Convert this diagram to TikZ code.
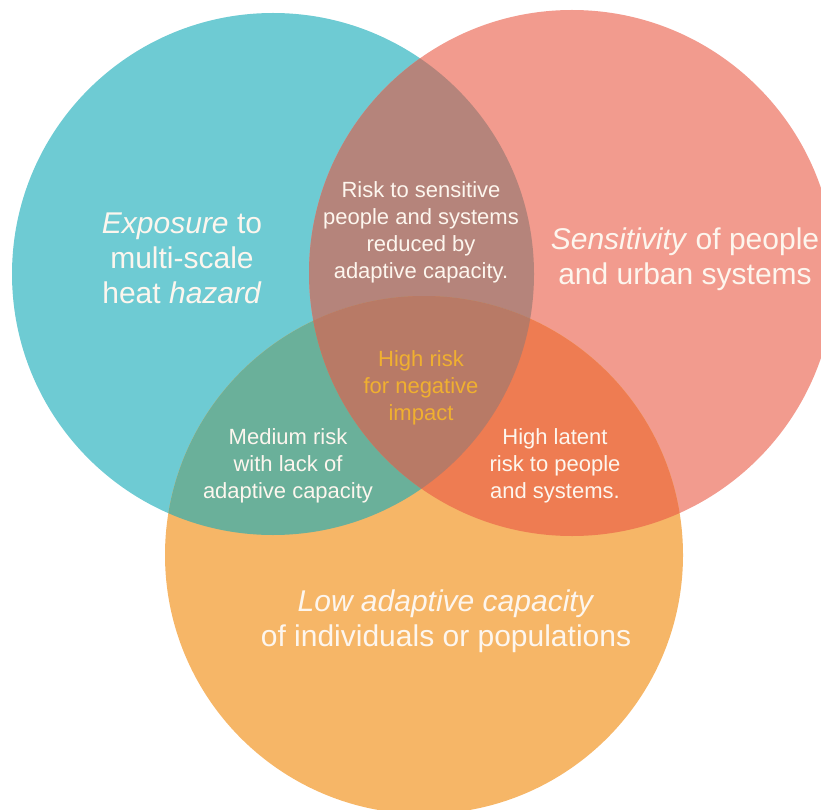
\documentclass[tikz,border=0pt]{standalone}
\usepackage{fontspec}
\setmainfont{Liberation Sans}
\definecolor{cteal}{HTML}{6ECBD3}
\definecolor{csalmon}{HTML}{F29B8E}
\definecolor{corange}{HTML}{F6B667}
\definecolor{cts}{HTML}{B5847B}
\definecolor{cto}{HTML}{6AB09A}
\definecolor{cso}{HTML}{EE7C52}
\definecolor{call}{HTML}{B87A66}
\definecolor{ctext}{HTML}{FDF6EE}
\definecolor{cgold}{HTML}{F0B030}
\tikzset{
  bigtext/.style={text=ctext, align=center, font=\fontsize{30}{35}\selectfont},
  smalltext/.style={text=ctext, align=center, font=\fontsize{22}{27}\selectfont},
  goldtext/.style={text=cgold, align=center, font=\fontsize{22}{27}\selectfont}
}
\begin{document}
\begin{tikzpicture}[x=1pt,y=-1pt]
\useasboundingbox (0,0) rectangle (821,810);
\clip (0,0) rectangle (821,810);
\coordinate (A) at (273,274);
\coordinate (B) at (572,273);
\coordinate (C) at (424,555);
\def\ra{261pt}\def\rb{263pt}\def\rc{259pt}
\fill[cteal] (A) circle[radius=\ra];
\fill[csalmon] (B) circle[radius=\rb];
\fill[corange] (C) circle[radius=\rc];
\begin{scope}\clip (A) circle[radius=\ra]; \fill[cts] (B) circle[radius=\rb];\end{scope}
\begin{scope}\clip (A) circle[radius=\ra]; \fill[cto] (C) circle[radius=\rc];\end{scope}
\begin{scope}\clip (B) circle[radius=\rb]; \fill[cso] (C) circle[radius=\rc];\end{scope}
\begin{scope}\clip (A) circle[radius=\ra]; \clip (B) circle[radius=\rb]; \fill[call] (C) circle[radius=\rc];\end{scope}
\node[bigtext] (exp) at (182,258) {\textit{Exposure} to\\multi-scale\\heat \textit{hazard}};
\node[bigtext] (sen) at (685,259) {\textit{Sensitivity} of people\\and urban systems};
\node[bigtext] (low) at (446,621) {\textit{Low adaptive capacity}\\of individuals or populations};
\node[smalltext] (ts) at (421,232) {Risk to sensitive\\people and systems\\reduced by\\adaptive capacity.};
\node[goldtext] (mid) at (421,388) {High risk\\for negative\\impact};
\node[smalltext] (to) at (288,466) {Medium risk\\with lack of\\adaptive capacity};
\node[smalltext] (so) at (555,466) {High latent\\risk to people\\and systems.};
\end{tikzpicture}
\end{document}
